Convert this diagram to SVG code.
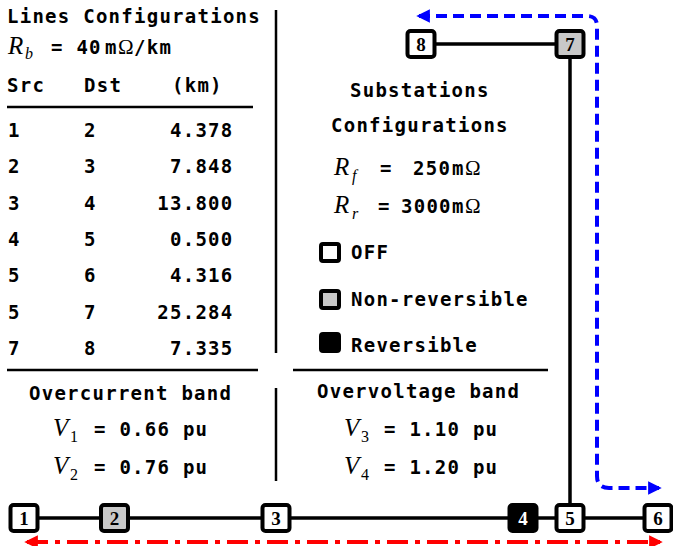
<svg xmlns="http://www.w3.org/2000/svg" width="673" height="546" viewBox="0 0 673 546">
<style>
.t{font-family:"DejaVu Sans Mono",monospace;font-weight:bold;font-size:19px;letter-spacing:1.26px;fill:#000}
.m{font-family:"Liberation Serif",serif;font-style:italic;font-size:25px;fill:#000}
.s{font-family:"Liberation Serif",serif;font-size:16px;fill:#000}
.si{font-family:"Liberation Serif",serif;font-style:italic;font-size:16px;fill:#000}
.om{font-family:"Liberation Serif",serif;font-size:21px;fill:#000}
.sep{stroke:#000;stroke-width:2.5;fill:none}
.edge{stroke:#000;stroke-width:3.5;fill:none}
.node rect{stroke:#000;stroke-width:4}
.nl{font-family:"Liberation Serif",serif;font-weight:bold;font-size:19px;text-anchor:middle}
.leg{stroke:#000;stroke-width:4}
</style>
<defs>
<marker id="ab" viewBox="0 0 10 10" refX="8" refY="5" markerWidth="3.4" markerHeight="3.4" orient="auto-start-reverse" markerUnits="strokeWidth">
<path d="M0,0 L10,5 L0,10 z" fill="#0000ff"/>
</marker>
<marker id="ar" viewBox="0 0 10 10" refX="8" refY="5" markerWidth="3.4" markerHeight="3.4" orient="auto-start-reverse" markerUnits="strokeWidth">
<path d="M0,0 L10,5 L0,10 z" fill="#ff0000"/>
</marker>
</defs>
<rect width="673" height="546" fill="#fff"/>

<g id="lines-table">
<text class="t" x="7" y="23">Lines Configurations</text>
<text class="m" x="8" y="54">R</text><text class="si" x="25" y="59">b</text>
<text class="t" x="51" y="54">= 40</text>
<text class="t" x="105" y="54">m</text>
<text class="om" x="118" y="54">Ω</text>
<text class="t" x="134" y="54">/km</text>
<text class="t" x="7" y="92">Src</text>
<text class="t" x="84" y="92">Dst</text>
<text class="t" x="172" y="92">(km)</text>
<line class="sep" x1="7" y1="107" x2="253" y2="107"/>
<g>
<text class="t" x="8" y="137">1</text><text class="t" x="84" y="137">2</text><text class="t" x="170" y="137">4.378</text>
<text class="t" x="8" y="173.3">2</text><text class="t" x="84" y="173.3">3</text><text class="t" x="170" y="173.3">7.848</text>
<text class="t" x="8" y="209.7">3</text><text class="t" x="84" y="209.7">4</text><text class="t" x="157.3" y="209.7">13.800</text>
<text class="t" x="8" y="246">4</text><text class="t" x="84" y="246">5</text><text class="t" x="170" y="246">0.500</text>
<text class="t" x="8" y="282.3">5</text><text class="t" x="84" y="282.3">6</text><text class="t" x="170" y="282.3">4.316</text>
<text class="t" x="8" y="318.7">5</text><text class="t" x="84" y="318.7">7</text><text class="t" x="157.3" y="318.7">25.284</text>
<text class="t" x="8" y="355">7</text><text class="t" x="84" y="355">8</text><text class="t" x="170" y="355">7.335</text>
</g>
</g>

<g id="separators">
<line class="sep" x1="276" y1="10" x2="276" y2="353"/>
<line class="sep" x1="276" y1="388" x2="276" y2="481"/>
<line class="sep" x1="7" y1="370" x2="258" y2="370"/>
<line class="sep" x1="293" y1="370" x2="548" y2="370"/>
</g>

<g id="substations">
<text class="t" x="350" y="97">Substations</text>
<text class="t" x="331" y="132">Configurations</text>
<text class="m" x="334" y="175">R</text><text class="si" x="352" y="181">f</text>
<text class="t" x="380" y="175">=</text>
<text class="t" x="413" y="175">250</text>
<text class="t" x="452" y="175">m</text>
<text class="om" x="465" y="175">Ω</text>
<text class="m" x="334" y="213">R</text><text class="si" x="352" y="219">r</text>
<text class="t" x="378" y="213">=</text>
<text class="t" x="401" y="213">3000</text>
<text class="t" x="452" y="213">m</text>
<text class="om" x="465" y="213">Ω</text>
</g>

<g id="legend">
<rect class="leg" x="321" y="244" width="18" height="17" rx="2" fill="#fff"/>
<text class="t" x="351" y="259">OFF</text>
<rect class="leg" x="321" y="291" width="18" height="17" rx="2" fill="#c8c8c8"/>
<text class="t" x="351" y="306">Non-reversible</text>
<rect class="leg" x="321" y="334" width="18" height="17" rx="2" fill="#000"/>
<text class="t" x="351" y="352">Reversible</text>
</g>

<g id="overcurrent">
<text class="t" x="29" y="400">Overcurrent band</text>
<text class="m" x="53" y="436">V</text><text class="s" x="70" y="442">1</text>
<text class="t" x="94" y="436">= 0.66 pu</text>
<text class="m" x="53" y="474">V</text><text class="s" x="70" y="480">2</text>
<text class="t" x="94" y="474">= 0.76 pu</text>
</g>

<g id="overvoltage">
<text class="t" x="317" y="398">Overvoltage band</text>
<text class="m" x="344" y="436">V</text><text class="s" x="361" y="442">3</text>
<text class="t" x="384" y="436">= 1.10 pu</text>
<text class="m" x="344" y="474">V</text><text class="s" x="361" y="480">4</text>
<text class="t" x="384" y="474">= 1.20 pu</text>
</g>

<g id="connectors">
<line class="edge" x1="24" y1="518" x2="658" y2="518"/>
<line class="edge" x1="570" y1="44" x2="570" y2="518"/>
<line class="edge" x1="421" y1="44" x2="570" y2="44"/>
<path d="M419,16 H587 Q597,16 597,26 V476 Q597,488 609,488 H659" fill="none" stroke="#0000ff" stroke-width="4" stroke-dasharray="11 6" marker-start="url(#ab)" marker-end="url(#ab)"/>
<path d="M27,542 H660" fill="none" stroke="#ff0000" stroke-width="4" stroke-dasharray="21 7 5 7" marker-start="url(#ar)" marker-end="url(#ar)"/>
</g>

<g id="node1" class="node"><rect x="10.5" y="505" width="27" height="26" rx="3" fill="#fff"/><text class="nl" x="24" y="525">1</text></g>
<g id="node2" class="node"><rect x="101" y="505" width="27" height="26" rx="3" fill="#c8c8c8"/><text class="nl" x="114.5" y="525">2</text></g>
<g id="node3" class="node"><rect x="262.5" y="505" width="27" height="26" rx="3" fill="#fff"/><text class="nl" x="276" y="525">3</text></g>
<g id="node4" class="node"><rect x="509.5" y="505" width="27" height="26" rx="3" fill="#000"/><text class="nl" x="523" y="525" fill="#fff">4</text></g>
<g id="node5" class="node"><rect x="556.5" y="505" width="27" height="26" rx="3" fill="#fff"/><text class="nl" x="570" y="525">5</text></g>
<g id="node6" class="node"><rect x="644.5" y="505" width="27" height="26" rx="3" fill="#fff"/><text class="nl" x="658" y="525">6</text></g>
<g id="node7" class="node"><rect x="556.5" y="31" width="27" height="26" rx="3" fill="#c8c8c8"/><text class="nl" x="570" y="51">7</text></g>
<g id="node8" class="node"><rect x="407.5" y="31" width="27" height="26" rx="3" fill="#fff"/><text class="nl" x="421" y="51">8</text></g>
</svg>
